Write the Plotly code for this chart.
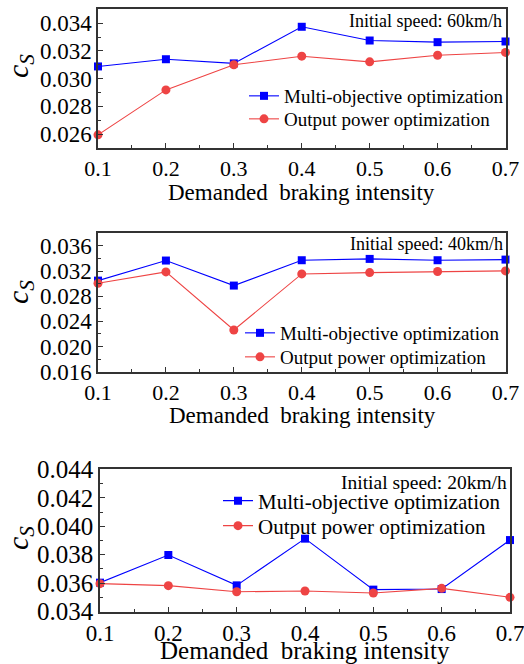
import plotly.graph_objects as go

x = [0.1, 0.2, 0.3, 0.4, 0.5, 0.6, 0.7]

multi_60 = [0.03088, 0.0314, 0.0311, 0.03374, 0.03275, 0.03263, 0.03268]
power_60 = [0.02595, 0.02919, 0.03100, 0.03162, 0.03121, 0.03169, 0.03189]

multi_40 = [0.03048, 0.03367, 0.02969, 0.03372, 0.03393, 0.03372, 0.03382]
power_40 = [0.03006, 0.03186, 0.02263, 0.03154, 0.03175, 0.03192, 0.03202]

multi_20 = [0.03604, 0.03798, 0.03585, 0.03913, 0.03555, 0.03559, 0.03903]
power_20 = [0.03597, 0.03583, 0.03540, 0.03545, 0.03531, 0.03564, 0.03501]

speed_labels = ["Initial speed: 60km/h", "Initial speed: 40km/h", "Initial speed: 20km/h"]
series_names = ["Multi-objective optimization", "Output power optimization"]
x_title = "Demanded&nbsp; braking intensity"

W, H = 524, 664
FONT = "Liberation Serif"
BLUE = "#0000FF"
RED = "#EE4444"

# panel geometry in pixels
panels = [
    dict(l=98, r=505.5, t=9.3, b=148, yr=[0.025, 0.035], dt=0.002, m=multi_60, p=power_60,
         ann_y=21, ann_x=504, ann_fs=18, leg_x=244, leg_y=[96, 119], leg_fs=19,
         ytitle_y=66, xtitle_x=301, xtitle_y=192, xt_fs=23, xtick_fs=22, ytick_fs=23),
    dict(l=98, r=505.5, t=233.3, b=371.7, yr=[0.016, 0.038], dt=0.004, m=multi_40, p=power_40,
         ann_y=244, ann_x=505, ann_fs=18, leg_x=240, leg_y=[333, 357], leg_fs=19,
         ytitle_y=292, xtitle_x=302, xtitle_y=415, xt_fs=23, xtick_fs=22, ytick_fs=23),
    dict(l=100, r=510, t=469.3, b=611.7, yr=[0.034, 0.044], dt=0.002, m=multi_20, p=power_20,
         ann_y=482, ann_x=509, ann_fs=19.5, leg_x=218, leg_y=[501, 526], leg_fs=21,
         ytitle_y=538, xtitle_x=305, xtitle_y=650, xt_fs=25, xtick_fs=23, ytick_fs=25),
]

fig = go.Figure()
layout = dict(width=W, height=H, margin=dict(l=0, r=0, t=0, b=0, autoexpand=False),
              paper_bgcolor="white", plot_bgcolor="white",
              font=dict(family=FONT, color="black"), showlegend=True)
annotations = []

for i, pn in enumerate(panels):
    k = "" if i == 0 else str(i + 1)
    xa, ya = "x" + k, "y" + k
    series = [(pn["m"], series_names[0], BLUE, "square", 8),
              (pn["p"], series_names[1], RED, "circle", 9)]
    for j, (vals, name, col, sym, ms) in enumerate(series):
        n = 2 * i + j + 1
        legname = "legend" if n == 1 else f"legend{n}"
        fig.add_trace(go.Scatter(x=x, y=vals, mode="lines+markers", name=name,
                                 xaxis=xa, yaxis=ya, legend=legname,
                                 line=dict(color=col, width=1.1),
                                 marker=dict(symbol=sym, size=ms, color=col),
                                 cliponaxis=False))
        layout[legname] = dict(x=pn["leg_x"] / W, y=1 - pn["leg_y"][j] / H,
                               xanchor="left", yanchor="middle",
                               bgcolor="rgba(0,0,0,0)", borderwidth=0,
                               font=dict(family=FONT, size=pn["leg_fs"], color="black"),
                               itemwidth=30)
    axcommon = dict(showline=True, linecolor="#333333", linewidth=1.5, mirror=True,
                    ticks="inside", ticklen=5, tickwidth=1.2, tickcolor="#333333",
                    showgrid=False, zeroline=False, automargin=False,
                    ticklabeloverflow="allow")
    layout["xaxis" + k] = dict(axcommon, domain=[pn["l"] / W, pn["r"] / W], anchor=ya,
                               range=[0.1, 0.7], tickvals=x, ticktext=[f"{v:.1f}" for v in x],
                               tickfont=dict(family=FONT, size=pn["xtick_fs"], color="black"),
                               minor=dict(ticks="inside", ticklen=3, dtick=0.05,
                                          tick0=0.1, tickcolor="#333333", showgrid=False))
    layout["yaxis" + k] = dict(axcommon, domain=[1 - pn["b"] / H, 1 - pn["t"] / H], anchor=xa,
                               range=pn["yr"], dtick=pn["dt"], tick0=0,
                               tickformat=".3f",
                               tickfont=dict(family=FONT, size=pn["ytick_fs"], color="black"),
                               minor=dict(ticks="inside", ticklen=3, dtick=pn["dt"] / 2,
                                          tickcolor="#333333", showgrid=False))
    annotations.append(dict(xref="paper", yref="paper", x=pn["ann_x"] / W, y=1 - pn["ann_y"] / H,
                            xanchor="right", yanchor="middle", showarrow=False,
                            text=speed_labels[i],
                            font=dict(family=FONT, size=pn["ann_fs"], color="black")))
    annotations.append(dict(xref="paper", yref="paper", x=20 / W, y=1 - pn["ytitle_y"] / H,
                            xanchor="center", yanchor="middle", showarrow=False, textangle=-90,
                            text="<i>c</i><sub><i>S</i></sub>",
                            font=dict(family=FONT, size=30, color="black")))
    annotations.append(dict(xref="paper", yref="paper", x=pn["xtitle_x"] / W,
                            y=1 - pn["xtitle_y"] / H,
                            xanchor="center", yanchor="middle", showarrow=False,
                            text=x_title, font=dict(family=FONT, size=pn["xt_fs"], color="black")))

layout["annotations"] = annotations
fig.update_layout(**layout)
fig.write_html("out.html")
